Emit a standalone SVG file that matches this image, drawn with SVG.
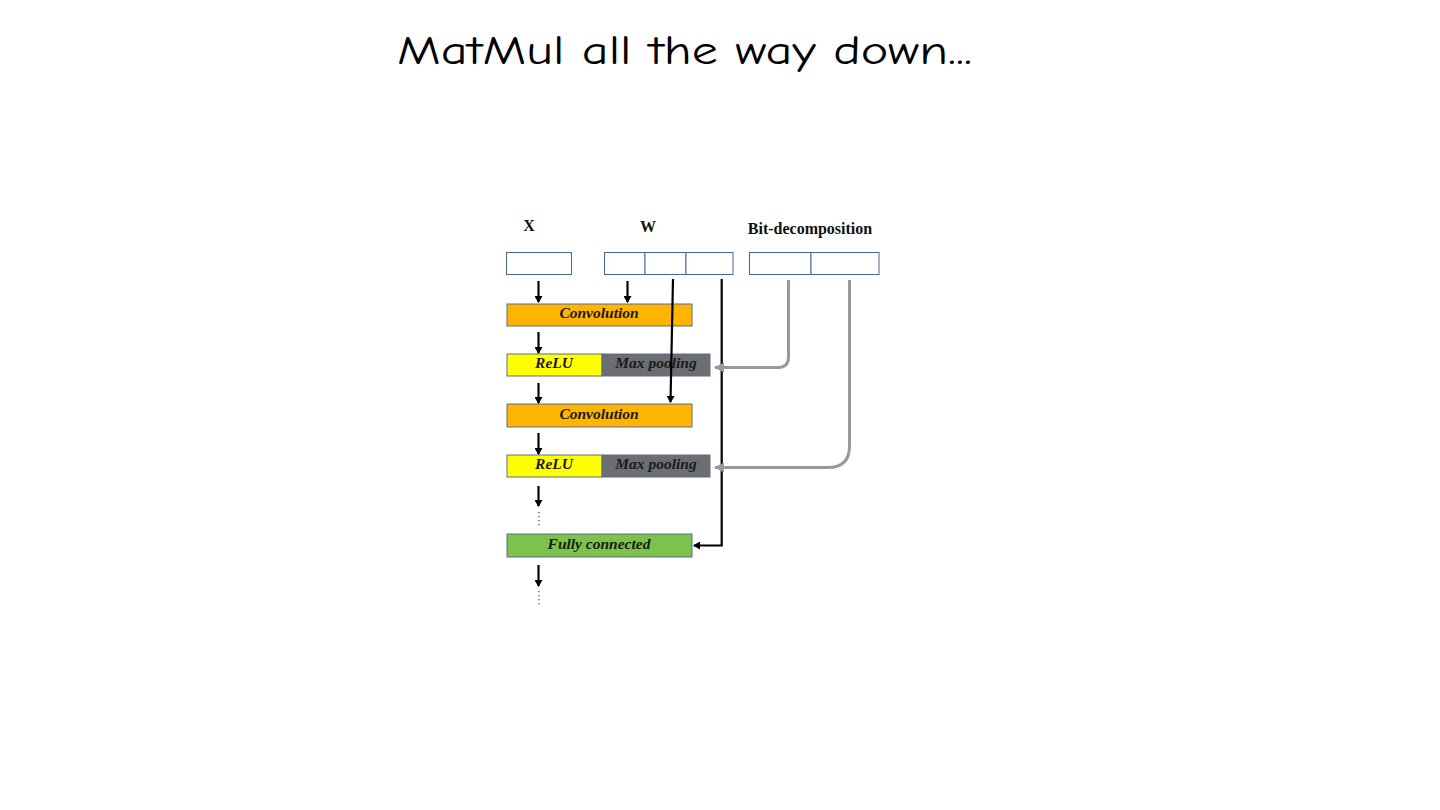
<svg xmlns="http://www.w3.org/2000/svg" width="1440" height="810" viewBox="0 0 1440 810">
<style>
.title{font-family:"Comic Neue","DejaVu Sans","Liberation Sans",sans-serif;font-size:40px;fill:#000}
.hdr{font-family:"Liberation Serif","DejaVu Serif",serif;font-size:16px;font-weight:bold;fill:#111}
.lbl{font-family:"Liberation Serif","DejaVu Serif",serif;font-size:15.5px;font-weight:bold;font-style:italic;fill:#1a1a1a}
.cell{fill:#fff;stroke:#4a6690;stroke-width:1}
.blk{stroke:#5a6f8a;stroke-width:1}
.arr{stroke:#000;stroke-width:2.2;fill:none}
.garr{stroke:#999;stroke-width:3;fill:none}
.dots{stroke:#444;stroke-width:1.2;stroke-dasharray:1.2 2.8;fill:none}
</style>
<defs>
<marker id="ah" markerWidth="8" markerHeight="8" refX="6" refY="4" orient="auto" markerUnits="userSpaceOnUse">
<path d="M0,0 L7,4 L0,8 Z" fill="#000"/>
</marker>
<marker id="gah" markerWidth="12" markerHeight="12" refX="9" refY="6" orient="auto" markerUnits="userSpaceOnUse">
<path d="M0,1 L10,6 L0,11 Z" fill="#999"/>
</marker>
</defs>
<rect width="1440" height="810" fill="#fff"/>
<text class="title" x="397" y="64" textLength="575" lengthAdjust="spacingAndGlyphs">MatMul all the way down...</text>

<g id="headers">
<text class="hdr" x="529" y="231" text-anchor="middle">X</text>
<text class="hdr" x="648" y="232" text-anchor="middle">W</text>
<text class="hdr" x="810" y="234" text-anchor="middle">Bit-decomposition</text>
</g>

<g id="x-input">
<rect class="cell" x="506.5" y="252.5" width="65" height="22"/>
</g>
<g id="w-input">
<rect class="cell" x="604.5" y="252.5" width="40.5" height="22"/>
<rect class="cell" x="645" y="252.5" width="41" height="22"/>
<rect class="cell" x="686" y="252.5" width="47" height="22"/>
</g>
<g id="bit-input">
<rect class="cell" x="749.5" y="252.5" width="61.5" height="22"/>
<rect class="cell" x="811" y="252.5" width="68" height="22"/>
</g>

<g id="conv1">
<rect class="blk" x="507" y="304" width="185" height="22" fill="#FFB400"/>
<text class="lbl" x="599" y="318" text-anchor="middle">Convolution</text>
</g>
<g id="relu1">
<rect class="blk" x="507" y="354" width="95" height="22" fill="#FFFF00"/>
<text class="lbl" x="554" y="368" text-anchor="middle">ReLU</text>
</g>
<g id="pool1">
<rect class="blk" x="602" y="354" width="108" height="22" fill="#6D6E71"/>
<text class="lbl" x="656" y="368" text-anchor="middle">Max pooling</text>
</g>
<g id="conv2">
<rect class="blk" x="507" y="404" width="185" height="23" fill="#FFB400"/>
<text class="lbl" x="599" y="419" text-anchor="middle">Convolution</text>
</g>
<g id="relu2">
<rect class="blk" x="507" y="455" width="95" height="22" fill="#FFFF00"/>
<text class="lbl" x="554" y="469" text-anchor="middle">ReLU</text>
</g>
<g id="pool2">
<rect class="blk" x="602" y="455" width="108" height="22" fill="#6D6E71"/>
<text class="lbl" x="656" y="469" text-anchor="middle">Max pooling</text>
</g>
<g id="fc">
<rect class="blk" x="507" y="534" width="185" height="23" fill="#7DC24B"/>
<text class="lbl" x="599" y="549" text-anchor="middle">Fully connected</text>
</g>

<g id="connectors">
<line class="arr" x1="538.5" y1="281" x2="538.5" y2="302" marker-end="url(#ah)"/>
<line class="arr" x1="627.5" y1="281" x2="627.5" y2="302" marker-end="url(#ah)"/>
<line class="arr" x1="538.5" y1="332" x2="538.5" y2="353" marker-end="url(#ah)"/>
<line class="arr" x1="538.5" y1="383" x2="538.5" y2="403" marker-end="url(#ah)"/>
<line class="arr" x1="538.5" y1="433" x2="538.5" y2="454" marker-end="url(#ah)"/>
<line class="arr" x1="538.5" y1="486" x2="538.5" y2="506" marker-end="url(#ah)"/>
<line class="dots" x1="539" y1="512" x2="539" y2="526"/>
<line class="arr" x1="538.5" y1="565" x2="538.5" y2="586" marker-end="url(#ah)"/>
<line class="dots" x1="539" y1="591" x2="539" y2="605"/>
<path class="arr" d="M673,279 L670.5,402" marker-end="url(#ah)"/>
<path class="arr" d="M721.7,279 L721.7,545.5 L694,545.5" marker-end="url(#ah)"/>
<path class="garr" d="M788.5,280 L788.5,357 Q788.5,367.5 778,367.5 L715,367.5" marker-end="url(#gah)"/>
<path class="garr" d="M849.5,280 L849.5,446 Q849.5,467.5 828,467.5 L715,467.5" marker-end="url(#gah)"/>
</g>
</svg>
